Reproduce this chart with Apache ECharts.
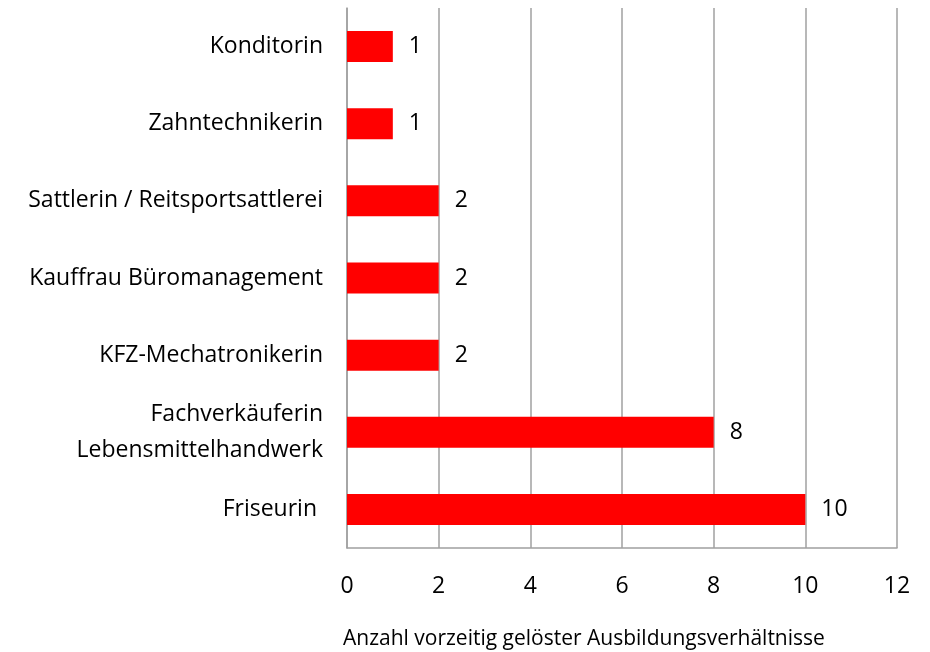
<!DOCTYPE html>
<html>
<head>
<meta charset="utf-8">
<script src="https://cdn.jsdelivr.net/npm/echarts@6/dist/echarts.min.js"></script>
<style>
  html, body { margin: 0; padding: 0; background: #fff; }
  #chartView { width: 930px; height: 652px; }
</style>
</head>
<body>
<div id="chartView"></div>
<script>
// Ausbildungsberufe, von unten nach oben
var berufe = ['Friseurin ', 'Fachverkäuferin\nLebensmittelhandwerk', 'KFZ-Mechatronikerin',
    'Kauffrau Büromanagement', 'Sattlerin / Reitsportsattlerei', 'Zahntechnikerin', 'Konditorin'];
var anzahl = [10, 8, 2, 2, 2, 1, 1];
var xTicks = [0, 2, 4, 6, 8, 10, 12];
var achsenTitel = 'Anzahl vorzeitig gelöster Ausbildungsverhältnisse';

var fontName = '"Open Sans", sans-serif';
var myChart = echarts.init(document.getElementById('chartView'));
var options = {
    animation: false,
    title: {
        text: achsenTitel,
        left: 343,
        top: 629,
        padding: 0,
        textStyle: { fontFamily: fontName, fontSize: 21, fontWeight: 'normal', color: '#000' }
    },
    grid: { left: 347, right: 33, top: 8, bottom: 104, containLabel: false },
    xAxis: {
        type: 'value',
        min: xTicks[0],
        max: xTicks[xTicks.length - 1],
        interval: 2,
        axisLine: { show: true, lineStyle: { color: '#a0a0a0', width: 1.5 } },
        axisTick: { show: false },
        axisLabel: { margin: 27, fontSize: 23, fontFamily: fontName, color: '#000' },
        splitLine: { show: true, lineStyle: { color: '#a0a0a0', width: 1.5 } }
    },
    yAxis: {
        type: 'category',
        data: berufe,
        axisLine: { show: true, lineStyle: { color: '#a0a0a0', width: 1.5 } },
        axisTick: { show: false },
        axisLabel: { margin: 24, fontSize: 23, fontFamily: fontName, color: '#000', lineHeight: 36, align: 'right' }
    },
    series: [
        {
            type: 'bar',
            data: anzahl,
            barWidth: 31,
            itemStyle: { color: '#ff0000' },
            label: {
                show: true,
                position: 'right',
                distance: 16,
                fontSize: 23,
                fontFamily: fontName,
                color: '#000'
            }
        }
    ]
};
myChart.setOption(options);
</script>
</body>
</html>
